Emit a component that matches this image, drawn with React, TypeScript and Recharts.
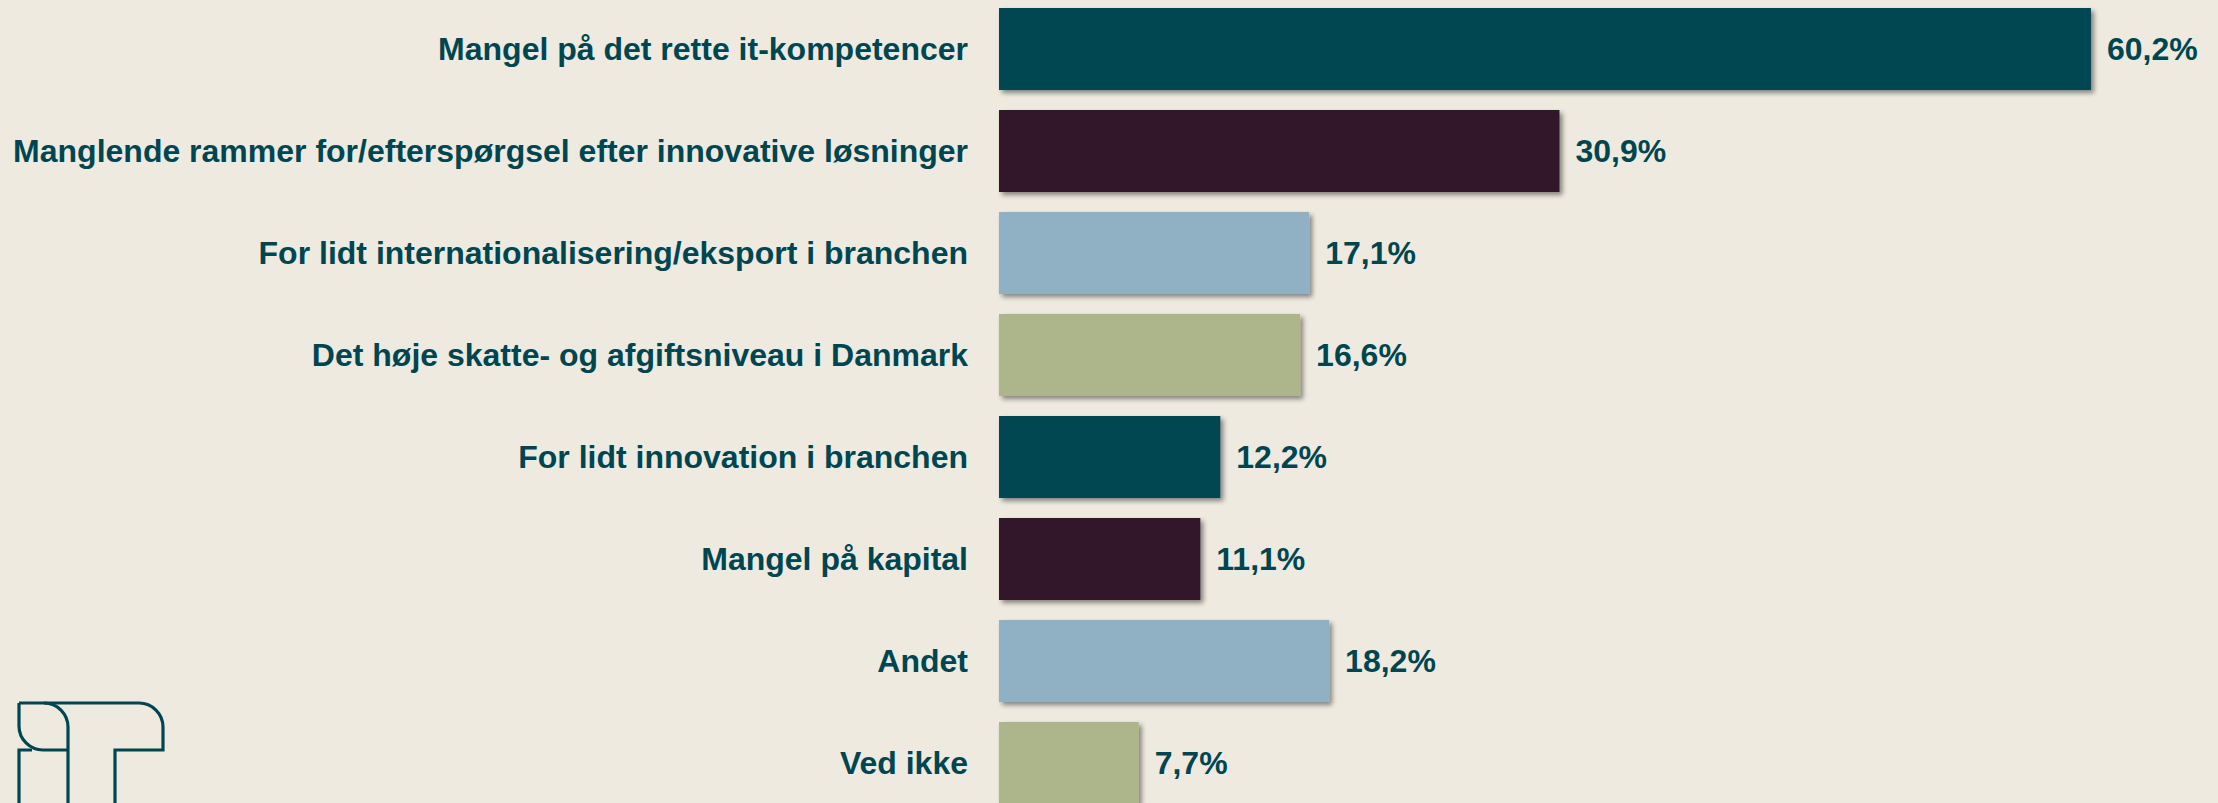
import { Bar, BarChart, Cell, LabelList, XAxis, YAxis } from 'recharts'

const categories = [
  'Mangel på det rette it-kompetencer',
  'Manglende rammer for/efterspørgsel efter innovative løsninger',
  'For lidt internationalisering/eksport i branchen',
  'Det høje skatte- og afgiftsniveau i Danmark',
  'For lidt innovation i branchen',
  'Mangel på kapital',
  'Andet',
  'Ved ikke',
]

const values = [60.2, 30.9, 17.1, 16.6, 12.2, 11.1, 18.2, 7.7]

const barColors = ['#004651', '#33192b', '#8fb1c3', '#adb68a', '#004651', '#33192b', '#8fb1c3', '#adb68a']

const TEXT = '#004651'
const FONT = '"Liberation Sans", Arial, sans-serif'

const data = categories.map((name, i) => ({ name, value: values[i] }))

function ShadowBar(props: any) {
  const { x, y, width, height, fill, index } = props
  const id = `shadow-${index}`
  return (
    <g>
      <defs>
        <filter id={id} x="-5%" y="-20%" width="115%" height="150%">
          <feGaussianBlur in="SourceAlpha" stdDeviation="2.5" />
          <feOffset dx="3" dy="3" result="off" />
          <feComponentTransfer>
            <feFuncA type="linear" slope="0.45" />
          </feComponentTransfer>
          <feMerge>
            <feMergeNode />
            <feMergeNode in="SourceGraphic" />
          </feMerge>
        </filter>
      </defs>
      <rect x={x} y={y} width={width} height={height} fill={fill} filter={`url(#${id})`} />
    </g>
  )
}

function Logo() {
  return (
    <svg
      width={200}
      height={110}
      style={{ position: 'absolute', left: 0, top: 695 }}
      viewBox="0 695 200 110"
    >
      <g fill="none" stroke={TEXT} strokeWidth={3.2} strokeLinejoin="miter">
        <path d="M19,703 H139 A24,24 0 0 1 163,727 V750 H115 V810" />
        <path d="M19,703 V726 A24,24 0 0 0 43,750 H68" />
        <path d="M44,703 A24,24 0 0 1 68,727 V810" />
        <path d="M32,750 H19 V810" />
      </g>
    </svg>
  )
}

export default function App() {
  return (
    <div
      style={{
        position: 'absolute',
        left: 0,
        top: 0,
        width: 2218,
        height: 803,
        overflow: 'hidden',
        background: '#efeae0',
      }}
    >
      <div style={{ position: 'absolute', left: 0, top: -2 }}>
        <BarChart
          layout="vertical"
          width={2218}
          height={816}
          data={data}
          barCategoryGap={10}
          margin={{ top: 0, right: 40, left: 0, bottom: 0 }}
        >
          <XAxis type="number" domain={[0, 65]} hide />
          <YAxis
            type="category"
            dataKey="name"
            width={999}
            axisLine={false}
            tickLine={false}
            tickSize={0}
            tickMargin={31}
            interval={0}
            tick={{ fill: TEXT, fontSize: 32, fontWeight: 700, fontFamily: FONT }}
          />
          <Bar dataKey="value" isAnimationActive={false} shape={<ShadowBar />}>
            {data.map((d, i) => (
              <Cell key={d.name} fill={barColors[i]} />
            ))}
            <LabelList
              dataKey="value"
              position="right"
              offset={16}
              formatter={(v: any) => `${String(v).replace('.', ',')}%`}
              style={{ fill: TEXT, fontSize: 32, fontWeight: 700, fontFamily: FONT }}
            />
          </Bar>
        </BarChart>
      </div>
      <Logo />
    </div>
  )
}
